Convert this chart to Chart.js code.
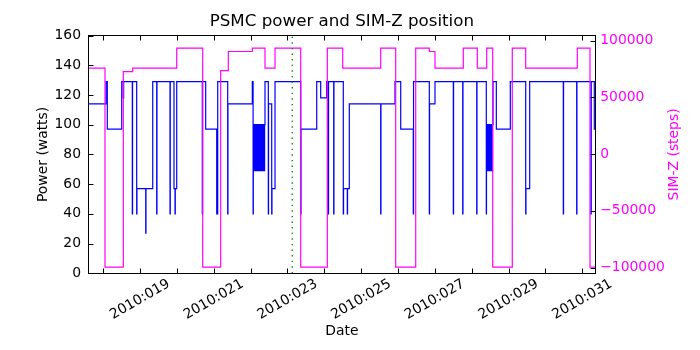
<!DOCTYPE html>
<html>
<head>
<meta charset="utf-8">
<script src="https://cdn.jsdelivr.net/npm/chart.js@4/dist/chart.umd.min.js"></script>
<style>
  html, body { margin: 0; padding: 0; background: #ffffff; }
  #wrap { width: 700px; height: 350px; }
</style>
</head>
<body>
<div id="wrap"><canvas id="c" width="700" height="350"></canvas></div>
<script>
// PSMC power telemetry: step changes, time as 2010 day-of-year (fractional)
const powerDays = [
  17.589, 18.078, 18.113, 18.504, 18.547, 18.556, 18.791, 18.798, 18.910, 18.917,
  19.155, 19.162, 19.345, 19.453, 19.460, 19.814, 19.821, 19.922, 19.950, 19.957,
  19.996, 20.690, 20.697, 20.782, 21.081, 21.108, 21.379, 21.386, 22.047, 22.068,
  22.074, 22.086, 22.097, 22.109, 22.121, 22.132, 22.144, 22.157, 22.168, 22.180,
  22.192, 22.203, 22.215, 22.228, 22.239, 22.251, 22.263, 22.274, 22.286, 22.298,
  22.310, 22.321, 22.333, 22.345, 22.357, 22.368, 22.380, 22.391, 22.481, 22.487,
  22.573, 22.580, 22.663, 23.360, 23.367, 23.794, 23.902, 24.065, 24.108, 24.115,
  24.255, 24.262, 24.515, 24.522, 24.624, 24.631, 24.678, 25.530, 25.537, 25.918,
  26.073, 26.414, 26.421, 26.849, 26.856, 27.003, 27.500, 27.507, 27.755, 27.762,
  28.135, 28.142, 28.395, 28.400, 28.412, 28.423, 28.435, 28.447, 28.458, 28.470,
  28.482, 28.494, 28.505, 28.517, 28.529, 28.541, 28.552, 28.564, 28.577, 28.667,
  29.046, 29.464, 29.471, 29.572, 30.484, 30.491, 30.847, 30.854, 31.235, 31.242,
  31.325, 31.363
];
const powerWatts = [
  114, 129, 97, 129, 118, 129, 40, 129, 40, 57,
  27, 57, 129, 40, 129, 40, 129, 57, 40, 57,
  129, 40, 129, 97, 40, 129, 40, 114, 129, 40,
  100, 69, 100, 69, 100, 69, 100, 69, 100, 69,
  100, 69, 100, 69, 100, 69, 100, 69, 100, 69,
  100, 69, 100, 69, 100, 69, 100, 129, 40, 114,
  40, 57, 129, 40, 97, 129, 118, 129, 40, 129,
  40, 129, 40, 57, 40, 57, 114, 40, 114, 129,
  97, 40, 129, 40, 114, 129, 40, 129, 40, 129,
  40, 129, 40, 100, 69, 100, 69, 100, 69, 100,
  69, 100, 69, 100, 69, 100, 69, 100, 129, 97,
  129, 40, 57, 129, 40, 129, 40, 129, 40, 129,
  97, 97
];

// SIM-Z position (steps)
const simzDays = [
  17.589, 18.050, 18.547, 18.802, 19.996, 20.701, 21.189, 21.396, 22.047, 22.391,
  22.663, 23.360, 24.082, 24.499, 25.530, 25.937, 26.480, 26.849, 27.003, 27.771,
  28.151, 28.406, 28.569, 29.100, 29.464, 30.864, 31.208, 31.363
];
const simzSteps = [
  75700, -99500, 72700, 75700, 93400, -99500, 73600, 90400, 93400, 75700,
  93400, -99500, 93400, 75700, 93400, -99500, 93400, 90400, 75700, 93400,
  75700, 93400, -99500, 93400, 75700, 93400, -99500, -99500
];

// Reference time marker
const markerDay = 23.13;

// Axis ticks and labels
const xTickDays = [18, 19, 20, 21, 22, 23, 24, 25, 26, 27, 28, 29, 30, 31];
const xLabelDays = [19, 21, 23, 25, 27, 29, 31];
const xLabels = ['2010:019', '2010:021', '2010:023', '2010:025', '2010:027', '2010:029', '2010:031'];
const powerTicks = [0, 20, 40, 60, 80, 100, 120, 140, 160];
const simzTicks = [-100000, -50000, 0, 50000, 100000];
const simzTickLabels = ['\u2212100000', '\u221250000', '0', '50000', '100000'];

const FONT = 'DejaVu Sans';
const TICK_LEN = 5;
const MAGENTA = '#ff00ff';

const toXY = (xs, ys) => xs.map((x, i) => ({ x: x, y: ys[i] }));

// Frame, inward tick marks, rotated date labels, right-hand label and title
const axesDecor = {
  id: 'axesDecor',
  afterDatasetsDraw(chart) {
    const { ctx, chartArea: a, scales } = chart;
    const L = Math.floor(a.left) + 0.5, R = Math.floor(a.right) + 0.5;
    const T = Math.floor(a.top) + 0.5, B = Math.floor(a.bottom) + 0.5;
    ctx.save();
    ctx.strokeStyle = '#000000';
    ctx.lineWidth = 1;
    ctx.strokeRect(L, T, R - L, B - T);
    ctx.beginPath();
    xTickDays.forEach(d => {
      const x = Math.round(scales.x.getPixelForValue(d)) + 0.5;
      ctx.moveTo(x, B); ctx.lineTo(x, B - TICK_LEN);
      ctx.moveTo(x, T); ctx.lineTo(x, T + TICK_LEN);
    });
    powerTicks.forEach(v => {
      const y = Math.round(scales.yP.getPixelForValue(v)) + 0.5;
      ctx.moveTo(L, y); ctx.lineTo(L + TICK_LEN, y);
    });
    simzTicks.forEach(v => {
      const y = Math.round(scales.yS.getPixelForValue(v)) + 0.5;
      ctx.moveTo(R, y); ctx.lineTo(R - TICK_LEN, y);
    });
    ctx.stroke();

    ctx.font = '13.9px "' + FONT + '"';
    ctx.fillStyle = '#000000';
    ctx.textAlign = 'center';
    ctx.textBaseline = 'middle';
    xLabelDays.forEach((d, i) => {
      const x = scales.x.getPixelForValue(d);
      ctx.save();
      ctx.translate(x, 299.5);
      ctx.rotate(-Math.PI / 6);
      ctx.fillText(xLabels[i], 0, 0);
      ctx.restore();
    });

    ctx.fillStyle = MAGENTA;
    ctx.save();
    ctx.translate(674.5, (a.top + a.bottom) / 2);
    ctx.rotate(-Math.PI / 2);
    ctx.fillText('SIM-Z (steps)', 0, 0);
    ctx.restore();

    ctx.font = '16.7px "' + FONT + '"';
    ctx.fillStyle = '#000000';
    ctx.textBaseline = 'alphabetic';
    ctx.fillText('PSMC power and SIM-Z position', (a.left + a.right) / 2, 26);
    ctx.restore();
  }
};

new Chart(document.getElementById('c'), {
  type: 'line',
  data: {
    datasets: [
      {
        label: 'Marker',
        data: [{ x: markerDay, y: 0 }, { x: markerDay, y: 160 }],
        yAxisID: 'yP',
        borderColor: '#008000',
        borderWidth: 1.3,
        borderDash: [1.4, 4.2],
        pointRadius: 0,
        order: 1
      },
      {
        label: 'SIM-Z',
        data: toXY(simzDays, simzSteps),
        yAxisID: 'yS',
        stepped: true,
        borderColor: MAGENTA,
        borderWidth: 1.2,
        pointRadius: 0,
        order: 2
      },
      {
        label: 'Power',
        data: toXY(powerDays, powerWatts),
        yAxisID: 'yP',
        stepped: true,
        borderColor: '#0000ff',
        borderWidth: 1.2,
        pointRadius: 0,
        order: 3
      }
    ]
  },
  options: {
    responsive: false,
    animation: false,
    devicePixelRatio: 1,
    layout: { padding: { top: 35.5, left: 0, right: 0, bottom: 0 } },
    plugins: {
      legend: { display: false },
      title: { display: false },
      tooltip: { enabled: false }
    },
    scales: {
      x: {
        type: 'linear',
        position: 'bottom',
        min: 17.589,
        max: 31.363,
        ticks: { display: false },
        grid: { display: false, drawTicks: false },
        border: { display: false },
        title: {
          display: true,
          text: 'Date',
          color: '#000000',
          font: { family: FONT, size: 13.9 },
          padding: { top: 0, bottom: 10.7 }
        },
        afterFit: s => { s.height = 76.7; }
      },
      yP: {
        type: 'linear',
        position: 'left',
        min: 0,
        max: 160,
        afterBuildTicks: s => { s.ticks = powerTicks.map(v => ({ value: v })); },
        ticks: {
          color: '#000000',
          font: { family: FONT, size: 13.9 },
          padding: 7,
          callback: v => String(v)
        },
        grid: { display: false, drawTicks: false },
        border: { display: false },
        title: {
          display: true,
          text: 'Power (watts)',
          color: '#000000',
          font: { family: FONT, size: 13.9 },
          padding: { top: 34.7, bottom: 0 }
        },
        afterFit: s => { s.width = 88; }
      },
      yS: {
        type: 'linear',
        position: 'right',
        min: -105000,
        max: 104500,
        afterBuildTicks: s => { s.ticks = simzTicks.map(v => ({ value: v })); },
        ticks: {
          color: MAGENTA,
          font: { family: FONT, size: 13.9 },
          padding: 4.5,
          callback: v => simzTickLabels[simzTicks.indexOf(v)]
        },
        grid: { display: false, drawTicks: false },
        border: { display: false },
        afterFit: s => { s.width = 104.3; }
      }
    }
  },
  plugins: [axesDecor]
});
</script>
</body>
</html>
